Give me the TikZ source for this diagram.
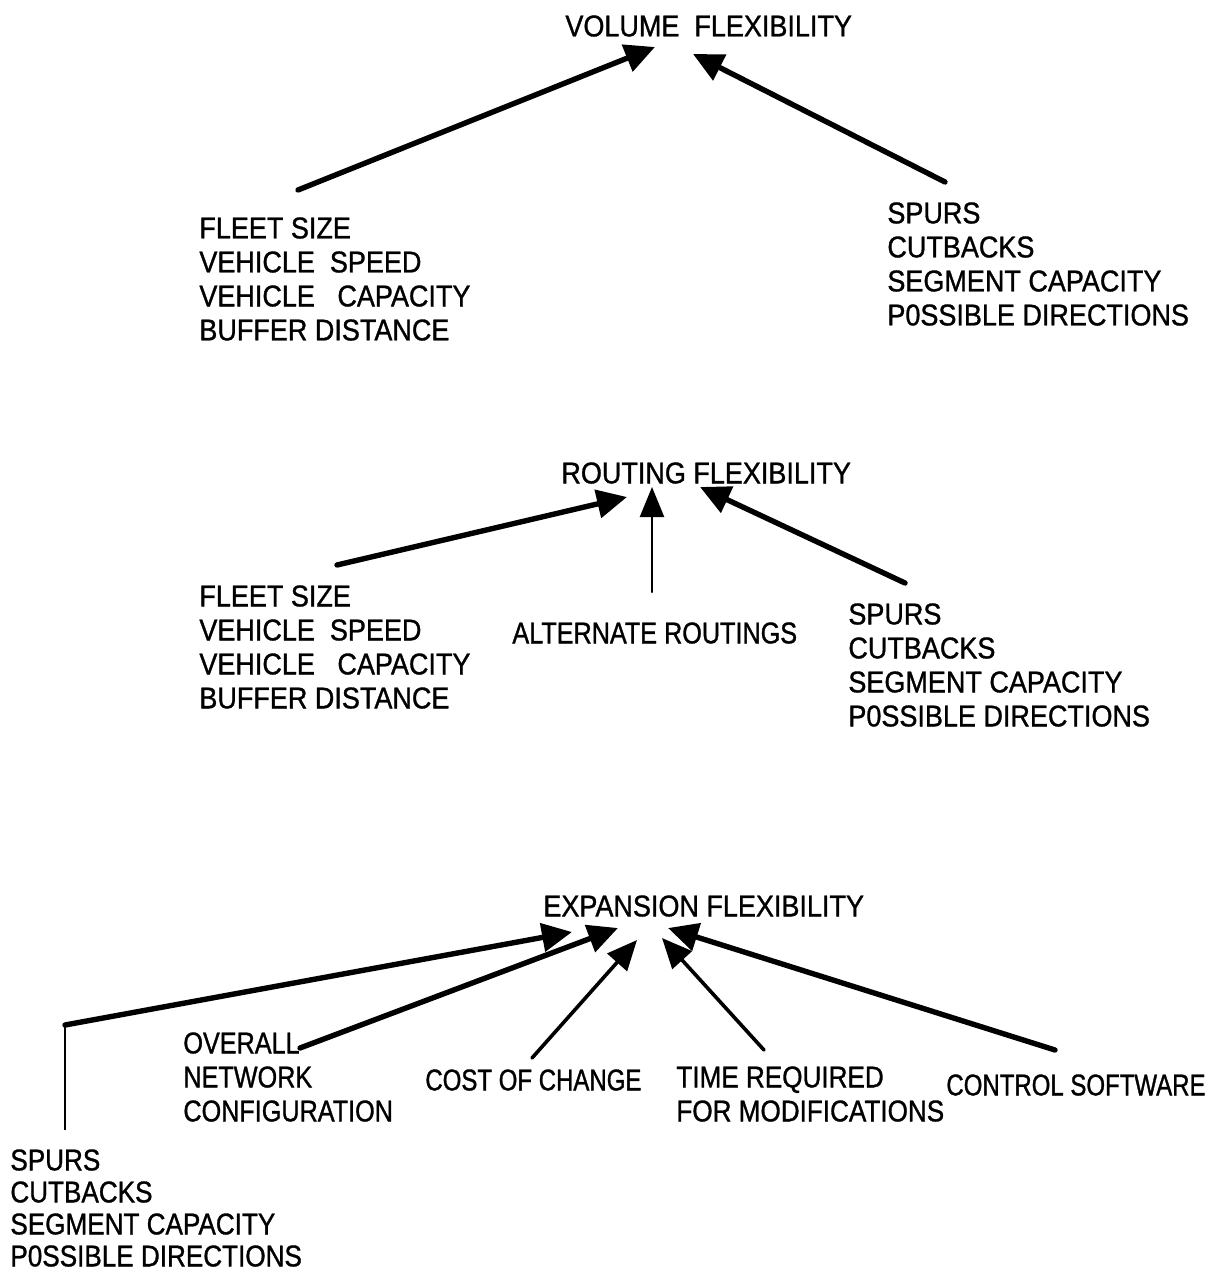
\documentclass[tikz,border=0pt]{standalone}
\usepackage{fontspec}
\setmainfont{Liberation Sans}[FakeStretch=0.9,FakeBold=1]
% narrower cuts of the same face for the tighter labels
\newfontfamily\narrowA{Liberation Sans}[FakeStretch=0.80,FakeBold=1]
\newfontfamily\narrowB{Liberation Sans}[FakeStretch=0.84,FakeBold=1]
\newfontfamily\narrowC{Liberation Sans}[FakeStretch=0.87,FakeBold=1]
\usetikzlibrary{arrows.meta}
\begin{document}
\begin{tikzpicture}[x=0.5pt,y=-0.5pt,
  txt/.style={anchor=north west,inner sep=0pt,align=left,font=\fontsize{15}{17}\selectfont},
  heavy/.style={line width=2.7pt,line cap=round,-{Triangle[length=15pt,width=14pt]}},
  medium/.style={line width=1.8pt,line cap=round,-{Triangle[length=15pt,width=13pt]}},
  light/.style={line width=1.2pt,line cap=round,-{Triangle[length=15pt,width=12pt]}},
  plain/.style={line width=1.2pt}]
\useasboundingbox (0,0) rectangle (1228,1273);

% ---------- volume flexibility ----------
\node[txt] (vol) at (565,15) {VOLUME\ \ FLEXIBILITY};
\node[txt] (volL) at (199,217) {FLEET SIZE\\VEHICLE\ \ SPEED\\VEHICLE\ \ \ CAPACITY\\BUFFER DISTANCE};
\node[txt] (volR) at (887,202) {SPURS\\CUTBACKS\\SEGMENT CAPACITY\\P0SSIBLE DIRECTIONS};
\coordinate (v1s) at (298,190);
\coordinate (v1e) at (655,47);
\coordinate (v2s) at (945,182);
\coordinate (v2e) at (693,54);
\draw[heavy] (v1s) -- (v1e);
\draw[heavy] (v2s) -- (v2e);

% ---------- routing flexibility ----------
\node[txt] (rout) at (561,462) {ROUTING FLEXIBILITY};
\node[txt] (routL) at (199,585) {FLEET SIZE\\VEHICLE\ \ SPEED\\VEHICLE\ \ \ CAPACITY\\BUFFER DISTANCE};
\node[txt,font=\fontsize{15}{17}\narrowB] (routM) at (512,622) {ALTERNATE ROUTINGS};
\node[txt] (routR) at (848,603) {SPURS\\CUTBACKS\\SEGMENT CAPACITY\\P0SSIBLE DIRECTIONS};
\coordinate (r1s) at (337,565);
\coordinate (r1e) at (627,497);
\coordinate (r2s) at (652,592);
\coordinate (r2e) at (652,487);
\coordinate (r3s) at (905,583);
\coordinate (r3e) at (700,487);
\draw[heavy] (r1s) -- (r1e);
\draw[light] (r2s) -- (r2e);
\draw[heavy] (r3s) -- (r3e);

% ---------- expansion flexibility ----------
\node[txt] (exp) at (543,895) {EXPANSION FLEXIBILITY};
\node[txt,font=\fontsize{15}{16}\narrowC] (expA) at (10,1149) {SPURS\\CUTBACKS\\SEGMENT CAPACITY\\P0SSIBLE DIRECTIONS};
\node[txt,font=\fontsize{15}{17}\narrowB] (expB) at (183,1032) {OVERALL\\NETWORK\\CONFIGURATION};
\node[txt,font=\fontsize{15}{17}\narrowA] (expC) at (425,1069) {COST OF CHANGE};
\node[txt,font=\fontsize{15}{17}\narrowC] (expD) at (676,1066) {TIME REQUIRED\\FOR MODIFICATIONS};
\node[txt,font=\fontsize{15}{17}\narrowA] (expE) at (946,1074) {CONTROL SOFTWARE};
\coordinate (e1s) at (65,1130);
\coordinate (e1k) at (65,1025);
\coordinate (e1e) at (572,932);
\coordinate (e2s) at (300,1048);
\coordinate (e2e) at (618,928);
\coordinate (e3s) at (532,1058);
\coordinate (e3e) at (637,940);
\coordinate (e4s) at (764,1050);
\coordinate (e4e) at (662,938);
\coordinate (e5s) at (1055,1050);
\coordinate (e5e) at (668,928);
\draw[plain] (e1s) -- (e1k);
\draw[heavy] (e1k) -- (e1e);
\draw[heavy] (e2s) -- (e2e);
\draw[medium] (e3s) -- (e3e);
\draw[medium] (e4s) -- (e4e);
\draw[heavy] (e5s) -- (e5e);
\end{tikzpicture}
\end{document}
